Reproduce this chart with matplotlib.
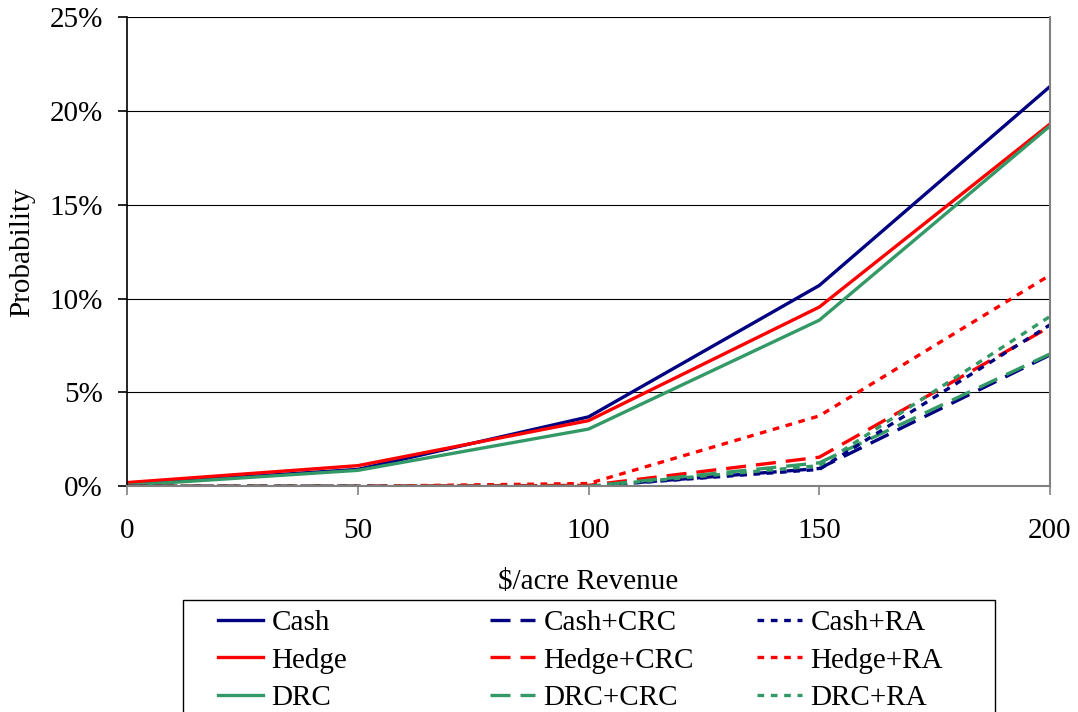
import matplotlib.pyplot as plt
from matplotlib.patches import Rectangle
from matplotlib.ticker import FuncFormatter

plt.rcParams['font.family'] = ['Liberation Serif', 'DejaVu Serif']

# revenue levels ($/acre) and probability (%) for each strategy
revenue = [0, 50, 100, 150, 200]

cash = [0.1, 0.9, 3.7, 10.7, 21.3]
hedge = [0.2, 1.1, 3.5, 9.55, 19.3]
drc = [0.05, 0.85, 3.05, 8.85, 19.2]

cash_crc = [0.0, 0.0, 0.0, 0.95, 7.0]
hedge_crc = [0.0, 0.0, 0.05, 1.55, 8.5]
drc_crc = [0.0, 0.0, 0.0, 1.25, 7.05]

cash_ra = [0.0, 0.0, 0.0, 0.9, 8.6]
hedge_ra = [0.0, 0.0, 0.15, 3.75, 11.25]
drc_ra = [0.0, 0.0, 0.0, 1.1, 9.05]

navy = '#000080'
red = '#FF0000'
green = '#339966'
lw = 2.4
dash = (0, (6, 3))
dot = (0, (2, 2))
fs = 21

fig = plt.figure(figsize=(10.78, 7.12), dpi=100)
ax = fig.add_axes([0.118, 0.317, 0.856, 0.659])

l1, = ax.plot(revenue, cash, color=navy, lw=lw, label='Cash')
l2, = ax.plot(revenue, hedge, color=red, lw=lw, label='Hedge')
l3, = ax.plot(revenue, drc, color=green, lw=lw, label='DRC')
l4, = ax.plot(revenue, cash_crc, color=navy, lw=lw, ls=dash, label='Cash+CRC')
l5, = ax.plot(revenue, hedge_crc, color=red, lw=lw, ls=dash, label='Hedge+CRC')
l6, = ax.plot(revenue, drc_crc, color=green, lw=lw, ls=dash, label='DRC+CRC')
l7, = ax.plot(revenue, cash_ra, color=navy, lw=lw, ls=dot, label='Cash+RA')
l8, = ax.plot(revenue, hedge_ra, color=red, lw=lw, ls=dot, label='Hedge+RA')
l9, = ax.plot(revenue, drc_ra, color=green, lw=lw, ls=dot, label='DRC+RA')

ax.set_xlim(0, 200)
ax.set_ylim(0, 25)
ax.set_xticks([0, 50, 100, 150, 200])
ax.set_yticks([0, 5, 10, 15, 20, 25])
ax.yaxis.set_major_formatter(FuncFormatter(lambda v, p: '%d%%' % v))
ax.tick_params(labelsize=fs, direction='out', length=6.5, color='#808080', width=1.2)
ax.tick_params(axis='x', pad=16)
ax.tick_params(axis='y', pad=11, color='#000000')
ax.yaxis.grid(True, color='#000000', lw=0.8)
ax.set_axisbelow(True)
ax.spines['top'].set_visible(False)
ax.spines['left'].set_color('#000000')
ax.spines['left'].set_linewidth(1.2)
for s in ['bottom', 'right']:
    ax.spines[s].set_color('#808080')
    ax.spines[s].set_linewidth(1.5)

ax.set_xlabel('\\$/acre Revenue', fontsize=fs, labelpad=18)
ax.set_ylabel('Probability', fontsize=fs, labelpad=10)

# legend: frame drawn by hand, three fixed-width columns like the original
fig.patches.append(Rectangle((183 / 1078, -0.05), (995 - 183) / 1078, 0.157 + 0.05,
                             transform=fig.transFigure, fill=False,
                             edgecolor='black', lw=1.0))
cols = [([l1, l2, l3], 218), ([l4, l5, l6], 490), ([l7, l8, l9], 757)]
for hs, xpx in cols:
    fig.legend(hs, [h.get_label() for h in hs], fontsize=fs, loc='upper left',
               bbox_to_anchor=(xpx / 1078, 1 - 610 / 712), frameon=False,
               handlelength=1.55, handletextpad=0.28, labelspacing=0.37,
               borderaxespad=0, borderpad=0)

fig.savefig('out.png', dpi=100)
